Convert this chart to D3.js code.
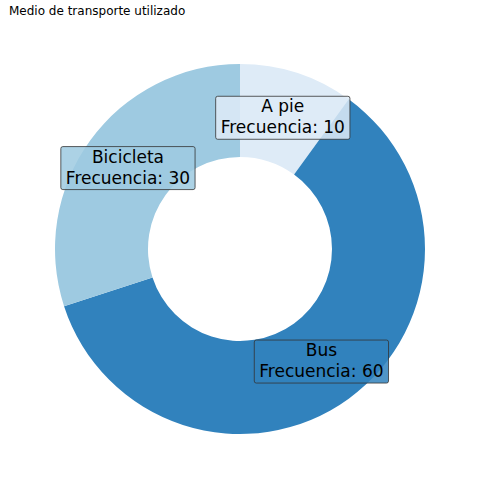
<!DOCTYPE html>
<html><head><meta charset="utf-8">
<script src="https://cdn.jsdelivr.net/npm/d3@7"></script>
<style>body{margin:0;background:#fff}</style>
</head><body><svg id="c" width="480" height="480"></svg>
<script>
const categories = ["A pie", "Bus", "Bicicleta"];
const values = [10, 60, 30];
const colors = ["#deebf7", "#3182bd", "#9ecae1"];

const svg = d3.select("#c");
svg.append("text").attr("x", 9).attr("y", 15).attr("font-family", "DejaVu Sans")
  .attr("font-size", 12).text("Medio de transporte utilizado");

const cx = 240, cy = 249, R = 185, r = 92;
const pie = d3.pie().sort(null).value(d => d.v);
const arcs = pie(categories.map((c, i) => ({c, v: values[i], col: colors[i]})));
const arc = d3.arc().innerRadius(r).outerRadius(R);
const g = svg.append("g").attr("transform", `translate(${cx},${cy})`);
g.selectAll("path").data(arcs).join("path").attr("d", arc).attr("fill", d => d.data.col);

const lr = 138.5;
arcs.forEach(d => {
  const a = (d.startAngle + d.endAngle) / 2;
  const x = lr * Math.sin(a), y = -lr * Math.cos(a);
  const lg = g.append("g").attr("transform", `translate(${x},${y})`);
  const rect = lg.append("rect");
  const t = lg.append("text").attr("text-anchor", "middle").attr("font-family", "DejaVu Sans")
    .attr("font-size", 17).attr("fill", "#000");
  t.append("tspan").attr("x", 0).attr("y", -5).text(d.data.c);
  t.append("tspan").attr("x", 0).attr("y", 16).text("Frecuencia: " + d.data.v);
  const bb = t.node().getBBox();
  rect.attr("x", bb.x - 5).attr("y", -21).attr("width", bb.width + 10).attr("height", 43)
    .attr("rx", 2).attr("fill", d.data.col).attr("fill-opacity", 0.85)
    .attr("stroke", "#333").attr("stroke-width", 0.8);
});
</script></body></html>
